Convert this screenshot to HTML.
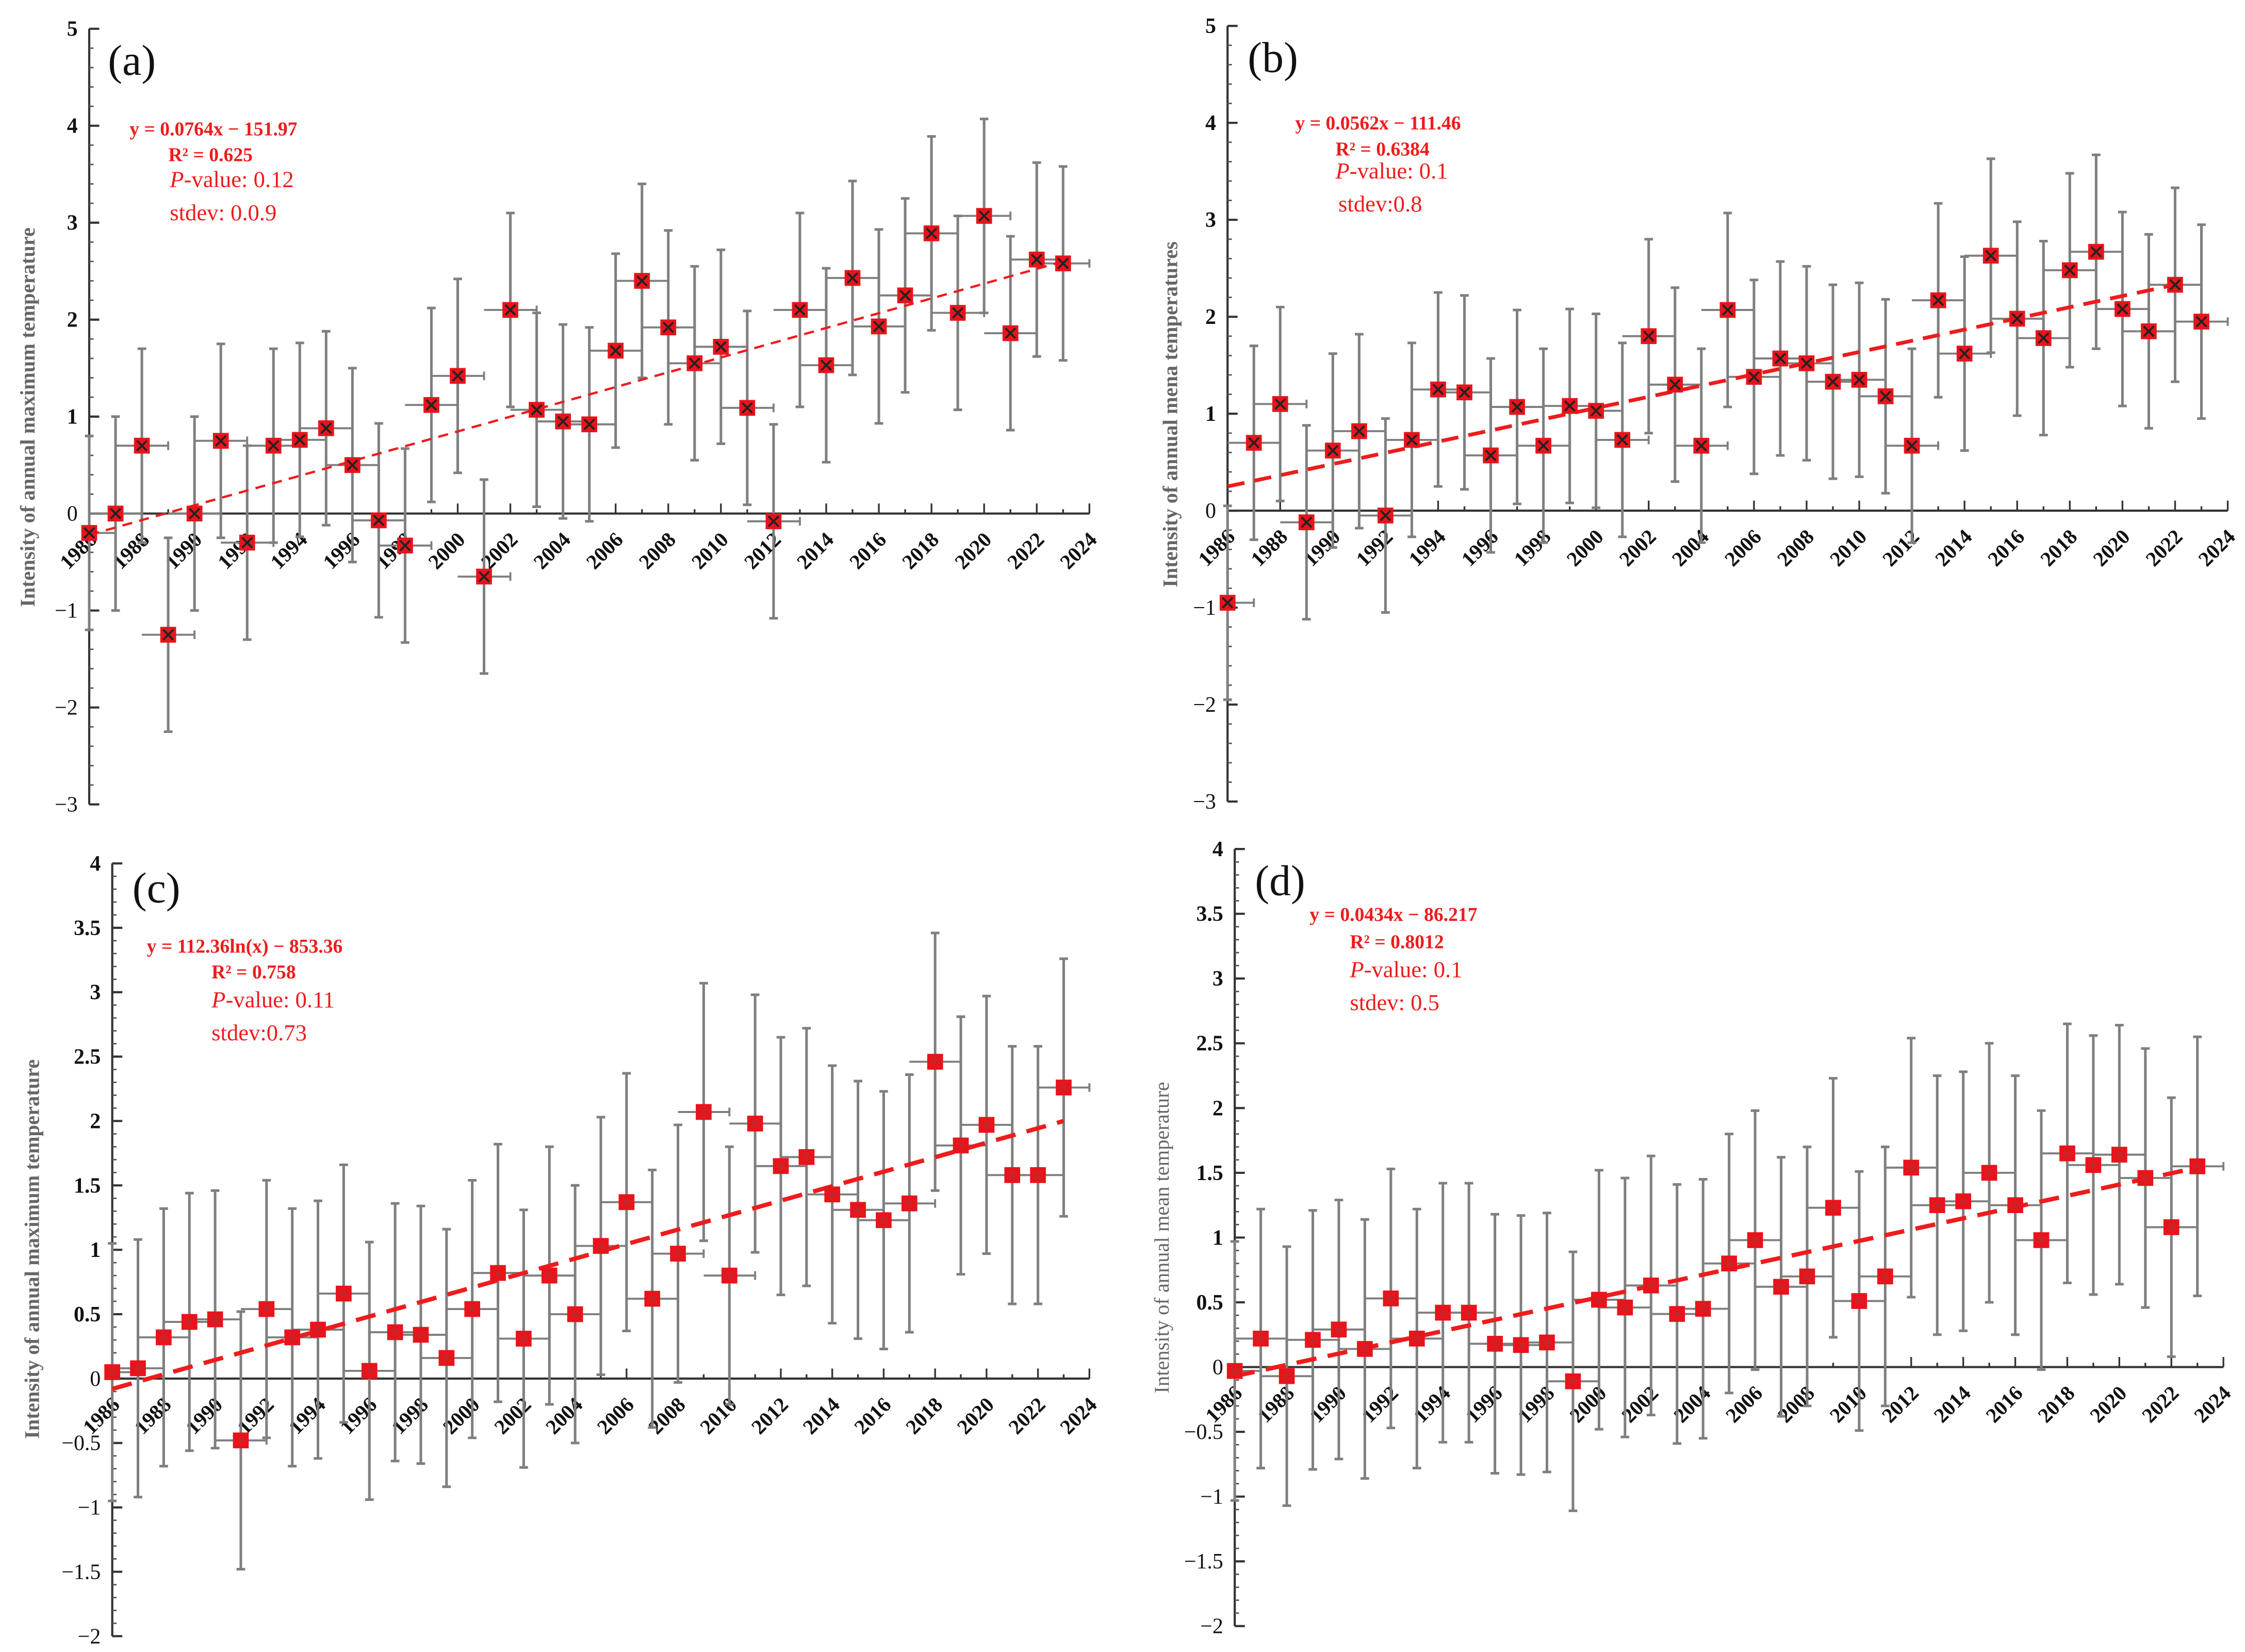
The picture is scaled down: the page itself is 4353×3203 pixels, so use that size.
<!DOCTYPE html>
<html><head><meta charset="utf-8">
<style>
html,body{margin:0;padding:0;background:#fff;}
svg{display:block;}
text{font-family:"Liberation Serif",serif;}
</style></head>
<body>
<svg id="fig" width="4353" height="3203" viewBox="0 0 1560 1148" preserveAspectRatio="none" xmlns="http://www.w3.org/2000/svg">
<rect width="1560" height="1148" fill="#fff"/>
</svg>
<script>
const years = [1986,1987,1988,1989,1990,1991,1992,1993,1994,1995,1996,1997,1998,1999,2000,2001,2002,2003,2004,2005,2006,2007,2008,2009,2010,2011,2012,2013,2014,2015,2016,2017,2018,2019,2020,2021,2022,2023];
const valuesA = [-0.2,0,0.7,-1.25,0,0.75,-0.3,0.7,0.76,0.88,0.5,-0.07,-0.33,1.12,1.42,-0.65,2.1,1.07,0.95,0.92,1.68,2.4,1.92,1.55,1.72,1.09,-0.08,2.1,1.53,2.43,1.93,2.25,2.89,2.07,3.07,1.86,2.62,2.58];
const valuesB = [-0.95,0.7,1.1,-0.12,0.62,0.82,-0.05,0.73,1.25,1.22,0.57,1.07,0.67,1.08,1.03,0.73,1.8,1.3,0.67,2.07,1.38,1.57,1.52,1.33,1.35,1.18,0.67,2.17,1.62,2.63,1.98,1.78,2.48,2.67,2.08,1.85,2.33,1.95];
const valuesC = [0.05,0.08,0.32,0.44,0.46,-0.48,0.54,0.32,0.38,0.66,0.06,0.36,0.34,0.16,0.54,0.82,0.31,0.8,0.5,1.03,1.37,0.62,0.97,2.07,0.8,1.98,1.65,1.72,1.43,1.31,1.23,1.36,2.46,1.81,1.97,1.58,1.58,2.26];
const valuesD = [-0.03,0.22,-0.07,0.21,0.29,0.14,0.53,0.22,0.42,0.42,0.18,0.17,0.19,-0.11,0.52,0.46,0.63,0.41,0.45,0.8,0.98,0.62,0.7,1.23,0.51,0.7,1.54,1.25,1.28,1.5,1.25,0.98,1.65,1.56,1.64,1.46,1.08,1.55];
const errorA = 1, errorB = 1, errorC = 1, errorD = 1;
const trendA = [-0.22, 2.6];
const trendB = [0.25, 2.33];
const trendC = [-0.08, 2.0];
const trendD = [-0.07, 1.54];
const yTicksA = [-3,-2,-1,0,1,2,3,4,5];
const yTicksB = [-3,-2,-1,0,1,2,3,4,5];
const yTicksC = [-2,-1.5,-1,-0.5,0,0.5,1,1.5,2,2.5,3,3.5,4];
const yTicksD = [-2,-1.5,-1,-0.5,0,0.5,1,1.5,2,2.5,3,3.5,4];
const xTickLabels = ["1986","1988","1990","1992","1994","1996","1998","2000","2002","2004","2006","2008","2010","2012","2014","2016","2018","2020","2022","2024"];

const NS="http://www.w3.org/2000/svg";
const svg=document.getElementById('fig');
function mk(tag,attrs,parent){const e=document.createElementNS(NS,tag);for(const k in attrs)e.setAttribute(k,attrs[k]);(parent||svg).appendChild(e);return e;}

const panels=[
 {id:'a',vals:valuesA,err:errorA,trend:trendA,ticks:yTicksA,ymin:-3,ymax:5,minor:0.2,x0:62,x1:757,yTop:20,yBot:559,cross:true,dashW:1.6,dash:'7,5',
  title:'Intensity of annual maximum  temperature',titleX:24,titleY:290,titleBold:true,
  label:['(a)',75,52],ann:[['y = 0.0764x − 151.97',90,94,true],['R² = 0.625',117,112,true],['P-value: 0.12',118,130,false],['stdev: 0.0.9',118,153,false]]},
 {id:'b',vals:valuesB,err:errorB,trend:trendB,ticks:yTicksB,ymin:-3,ymax:5,minor:0.2,x0:853,x1:1548,yTop:18,yBot:557,cross:true,dashW:2.6,dash:'12,7',trendEnd:2022,
  title:'Intensity of annual mena temperatures',titleX:818,titleY:288,titleBold:true,
  label:['(b)',867,50],ann:[['y = 0.0562x − 111.46',900,90,true],['R² = 0.6384',928,108,true],['P-value: 0.1',928,124,false],['stdev:0.8',930,147,false]]},
 {id:'c',vals:valuesC,err:errorC,trend:trendC,ticks:yTicksC,ymin:-2,ymax:4,minor:0.1,x0:78,x1:757,yTop:600,yBot:1137,cross:false,dashW:3,dash:'14,8',
  title:'Intensity of annual maximum  temperature',titleX:27,titleY:868,titleBold:true,
  label:['(c)',92,627],ann:[['y = 112.36ln(x) − 853.36',102,662,true],['R² = 0.758',147,680,true],['P-value: 0.11',147,700,false],['stdev:0.73',147,723,false]]},
 {id:'d',vals:valuesD,err:errorD,trend:trendD,ticks:yTicksD,ymin:-2,ymax:4,minor:0.1,x0:858,x1:1545,yTop:590,yBot:1130,cross:false,dashW:3,dash:'14,8',
  title:'Intensity of annual  mean temperature',titleX:812,titleY:860,titleBold:false,
  label:['(d)',872,622],ann:[['y = 0.0434x − 86.217',910,640,true],['R² = 0.8012',938,659,true],['P-value: 0.1',938,679,false],['stdev: 0.5',938,702,false]]}
];

panels.forEach(p=>{
 const g=mk('g',{});
 
 
 const sx=yr=>p.x0+(yr-1986)*(p.x1-p.x0)/38;
 const sy=v=>p.yBot-(v-p.ymin)*(p.yBot-p.yTop)/(p.ymax-p.ymin);
 const y0=sy(0);
 const ya=mk('g',{},g);
 
 
 mk('line',{x1:p.x0,y1:p.yTop,x2:p.x0,y2:p.yBot,stroke:'#333','stroke-width':1.5},ya);
 const nMinor=Math.round((p.ymax-p.ymin)/p.minor);
 for(let i=0;i<=nMinor;i++){const v=p.ymin+i*p.minor;mk('line',{x1:p.x0,y1:sy(v),x2:p.x0+3,y2:sy(v),stroke:'#555','stroke-width':1},ya);}
 p.ticks.forEach(t=>{
  mk('line',{x1:p.x0,y1:sy(t),x2:p.x0+7,y2:sy(t),stroke:'#333','stroke-width':1.5},ya);
  const tx=mk('text',{x:p.x0-8,y:sy(t)+5,'text-anchor':'end','font-size':15,fill:'#111','font-weight':(t>0?'bold':'normal')},ya);
  tx.textContent=(t<0?'−'+Math.abs(t):String(t));
  
  
 });
 const xa=mk('g',{},g);
 
 
 mk('line',{x1:p.x0,y1:y0,x2:p.x1,y2:y0,stroke:'#333','stroke-width':1.5},xa);
 for(let yr=1986;yr<=2024;yr++){mk('line',{x1:sx(yr),y1:y0,x2:sx(yr),y2:y0-(yr%2===0?7:3),stroke:'#333','stroke-width':1.2},xa);}
 xTickLabels.forEach(l=>{
  const x=sx(+l),y=y0+12;
  const tx=mk('text',{x:0,y:0,'text-anchor':'end','font-size':14.5,'font-weight':'bold',fill:'#111',transform:`translate(${x+6},${y+7}) rotate(-45)`},xa);
  tx.textContent=l;
  
  
 });
 const eb=mk('g',{stroke:'#7f7f7f','stroke-width':1.8,fill:'none'},g);
 
 
 p.vals.forEach((v,i)=>{
  const x=sx(years[i]),y=sy(v),yt=sy(v+p.err),yb=sy(v-p.err);
  mk('line',{x1:x,y1:yt,x2:x,y2:yb},eb);
  mk('line',{x1:x-3,y1:yt,x2:x+3,y2:yt},eb);
  mk('line',{x1:x-3,y1:yb,x2:x+3,y2:yb},eb);
  const xl=sx(Math.max(1986,years[i]-1)),xr=sx(years[i]+1);
  mk('line',{x1:xl,y1:y,x2:xr,y2:y,'stroke-width':1.4},eb);
  mk('line',{x1:xr,y1:y-3,x2:xr,y2:y+3,'stroke-width':1.4},eb);
 });
 const tEnd=p.trendEnd||2023;
 const tl=mk('line',{x1:sx(1986),y1:sy(p.trend[0]),x2:sx(tEnd),y2:sy(p.trend[1]),stroke:'#ee1c1c','stroke-width':p.dashW,'stroke-dasharray':p.dash},g);
 
 
 p.vals.forEach((v,i)=>{
  const x=sx(years[i]),y=sy(v);
  const m=mk('g',{},g);
  
  
  mk('rect',{x:x-5.5,y:y-5.5,width:11,height:11,fill:'#e8141c'},m);
  if(p.cross){mk('path',{d:`M${x-3.5},${y-3.5}L${x+3.5},${y+3.5}M${x+3.5},${y-3.5}L${x-3.5},${y+3.5}`,stroke:'#222','stroke-width':1.4},m);}
  else{mk('path',{d:`M${x-2},${y-2}L${x+2},${y+2}M${x+2},${y-2}L${x-2},${y+2}`,stroke:'#a33','stroke-width':0.8},m);}
 });
 const tt=mk('text',{x:0,y:0,'text-anchor':'middle','font-size':14.5,fill:'#666','font-weight':p.titleBold?'bold':'normal',transform:`translate(${p.titleX},${p.titleY}) rotate(-90)`},g);
 tt.textContent=p.title;
 
 
 const pl=mk('text',{x:p.label[1],y:p.label[2],'font-size':30,fill:'#111'},g);
 pl.textContent=p.label[0];
 
 
 p.ann.forEach((a,k)=>{
  const t=mk('text',{x:a[1],y:a[2],'font-size':a[3]?13.5:16,fill:'#ee1c1c','font-weight':a[3]?'bold':'normal'},g);
  if(a[0].startsWith('P-value')){const s=mk('tspan',{'font-style':'italic'},t);s.textContent='P';const r=mk('tspan',{},t);r.textContent=a[0].slice(1);}
  else t.textContent=a[0];
  
  
 });
});
</script>
</body></html>
